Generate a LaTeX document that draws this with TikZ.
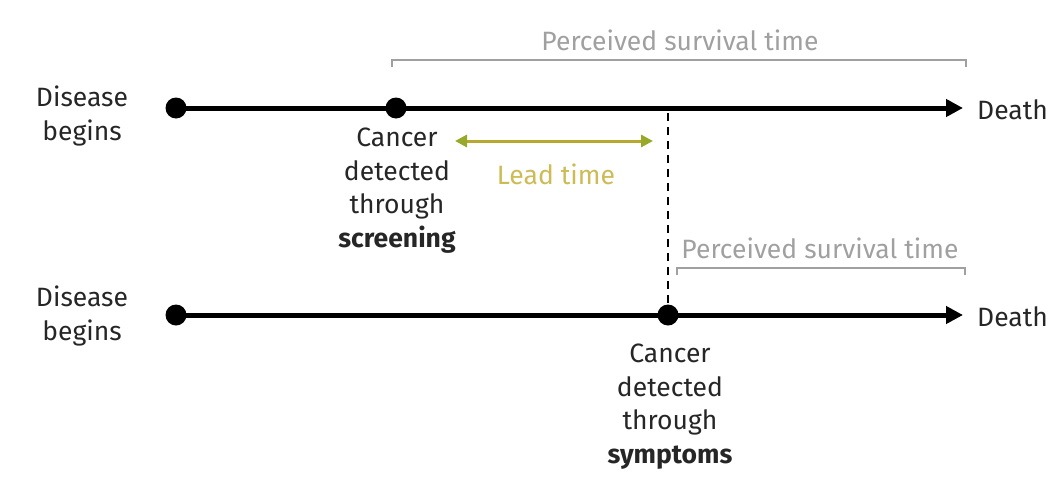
\documentclass[tikz,border=0pt]{standalone}
\usepackage{fontspec}
\setmainfont{Fira Sans}
\usetikzlibrary{arrows.meta}
\definecolor{brk}{HTML}{A0A0A0}
\definecolor{leadarr}{HTML}{B8A830}
\definecolor{leadtip}{HTML}{98A828}
\definecolor{leadtxt}{HTML}{CDBB55}
\tikzset{
  lbl/.style={font=\fontsize{26.5}{33.5}\selectfont, align=center, text=black!85, inner sep=0pt},
  glbl/.style={font=\fontsize{26.5}{30}\selectfont, text=brk, inner sep=0pt},
  timeline/.style={line width=5pt, -{Triangle[length=17pt,width=17pt]}},
  dotn/.style={circle, fill=black, minimum size=21pt, inner sep=0pt},
  bracket/.style={draw=brk, line width=1.6pt},
}
\begin{document}
\begin{tikzpicture}[x=1pt,y=-1pt]
\useasboundingbox (0,0) rectangle (1059,479);
% Timeline 1
\coordinate (s1) at (176,108);
\coordinate (e1) at (963,108);
\draw[timeline] (s1) -- (e1);
\node[dotn] (d1) at (s1) {};
\node[dotn] (d2) at (396,108) {};
\node[lbl, anchor=west] (death1) at (977,110) {Death};
\node[lbl] (db1) at (82,116) {Disease\\begins};
\node[lbl, anchor=north] (cs) at (397,128) {Cancer\\detected\\through\\\textbf{screening}};
% Bracket 1
\coordinate (b1l) at (392,67);
\coordinate (b1r) at (966,67);
\draw[bracket] (b1l) -- ++(0,-7) -| (b1r);
\node[glbl] (p1) at (680,40) {Perceived survival time};
% Lead time
\coordinate (l1) at (455,141);
\coordinate (l2) at (653,141);
\draw[draw=leadarr, line width=3pt, {Triangle[length=12pt,width=12pt,color=leadtip]}-{Triangle[length=12pt,width=12pt,color=leadtip]}] (l1) -- (l2);
\node[font=\fontsize{26.5}{30}\selectfont, text=leadtxt, inner sep=0pt] (lt) at (556,174) {Lead time};
% Timeline 2
\coordinate (s2) at (176,315);
\coordinate (e2) at (963,315);
\draw[timeline] (s2) -- (e2);
\node[dotn] (d3) at (s2) {};
\node[dotn] (d4) at (668,315) {};
\node[lbl, anchor=west] (death2) at (977,317) {Death};
\node[lbl] (db2) at (82,316) {Disease\\begins};
\node[lbl, anchor=north] (csy) at (670,344) {Cancer\\detected\\through\\\textbf{symptoms}};
% Dashed
\draw[line width=2.5pt, dash pattern=on 8pt off 6pt] (d4.center) ++(0,-12) -- (668,108);
% Bracket 2
\coordinate (b2l) at (677,275);
\coordinate (b2r) at (965,275);
\draw[bracket] (b2l) -- ++(0,-7) -| (b2r);
\node[glbl] (p2) at (820,248) {Perceived survival time};
\end{tikzpicture}
\end{document}
